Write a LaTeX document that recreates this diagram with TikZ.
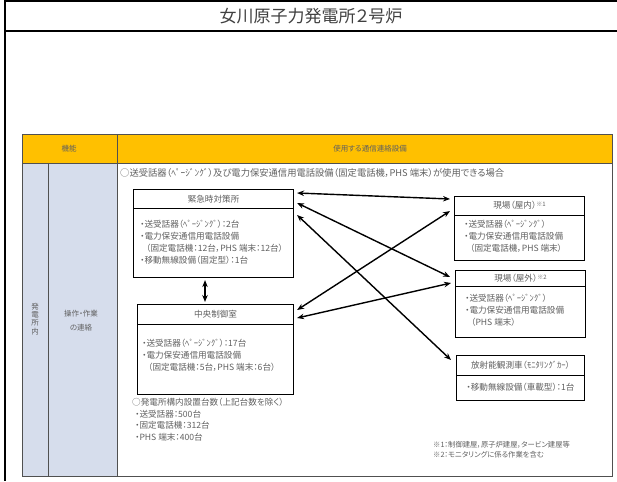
\documentclass[tikz,border=0pt]{standalone}
\usepackage{fontspec}
\setmainfont[RawFeature=+palt]{Noto Sans CJK JP}
\newfontfamily\jpnopalt{Noto Sans CJK JP}
\newcommand{\hk}[1]{{\jpnopalt #1}}
\usetikzlibrary{arrows.meta,calc}
\definecolor{hdr}{HTML}{FFC000}
\definecolor{lblue}{HTML}{D6DDEC}
\definecolor{txt}{HTML}{606060}
\definecolor{tline}{HTML}{505050}
\begin{document}
\begin{tikzpicture}[x=1pt,y=-1pt,
  box/.style={draw=black,line width=1.1pt,anchor=north west,inner sep=0pt,fill=white},
  divl/.style={draw=black,line width=0.6pt},
  ttl/.style={text=txt,inner sep=0pt,font=\fontsize{8.6}{10}\selectfont},
  items/.style={text=txt,inner sep=0pt,anchor=north west,align=left,font=\fontsize{8.6}{12}\selectfont},
  plain/.style={text=txt,inner sep=0pt,align=left,font=\fontsize{8.6}{11.5}\selectfont},
  hdrtxt/.style={text=txt,inner sep=0pt,font=\fontsize{7.5}{9}\selectfont},
  dbl/.style={line width=1.4pt,{Stealth[length=7pt,width=5.5pt]}-{Stealth[length=7pt,width=5.5pt]}},
  tbl/.style={draw=tline,line width=1pt}]
\useasboundingbox (0,0) rectangle (617,481);
% page frame
\draw[line width=1.2pt] (5,0) -- (5,481);
\draw[line width=1.2pt] (5,1) -- (617,1);
\draw[line width=1.8pt] (5,31) -- (617,31);
\node[text=black!75,inner sep=0pt,font=\fontsize{17}{20}\selectfont] (title) at (311,16) {女川原子力発電所２号炉};
% table
\fill[hdr] (22,135) rectangle (612,163);
\fill[lblue] (22,163) rectangle (117,476);
\draw[tbl] (22,135) rectangle (612,476);
\draw[tbl] (117,135) -- (117,476);
\draw[tbl] (22,163) -- (612,163);
\draw[tbl] (48,163) -- (48,476);
\node[hdrtxt] (h1) at (69,149) {機能};
\node[hdrtxt] (h2) at (370,149) {使用する通信連絡設備};
\node[text=txt,inner sep=0pt,align=center,font=\fontsize{7.5}{8.2}\selectfont] (v1) at (35,319) {発\\電\\所\\内};
\node[text=txt,inner sep=0pt,align=center,font=\fontsize{7.5}{14}\selectfont] (v2) at (81,321) {操作・作業\\の連絡};
\node[plain,anchor=west,font=\fontsize{9.3}{11}\selectfont] (cond) at (120,173) {○送受話器（\hk{ﾍﾟｰｼﾞﾝｸﾞ}）及び電力保安通信用電話設備（固定電話機，PHS 端末）が使用できる場合};
% box A
\node[box,minimum width=160pt,minimum height=88pt] (A) at (133,189) {};
\draw[divl] ([yshift=-19pt]A.north west) -- ([yshift=-19pt]A.north east);
\node[ttl] (At) at ([yshift=-10pt]A.north) {緊急時対策所};
\node[items] (Ai) at ([shift={(7pt,-31pt)}]A.north west) {・送受話器（\hk{ﾍﾟｰｼﾞﾝｸﾞ}）：2台\\・電力保安通信用電話設備\\\hspace*{6pt}（固定電話機：12台，PHS 端末：12台）\\・移動無線設備（固定型）：1台};
% box B
\node[box,minimum width=156pt,minimum height=90pt] (B) at (137,304) {};
\draw[divl] ([yshift=-20pt]B.north west) -- ([yshift=-20pt]B.north east);
\node[ttl] (Bt) at ([yshift=-10pt]B.north) {中央制御室};
\node[items] (Bi) at ([shift={(5pt,-35pt)}]B.north west) {・送受話器（\hk{ﾍﾟｰｼﾞﾝｸﾞ}）：17台\\・電力保安通信用電話設備\\\hspace*{6pt}（固定電話機：5台，PHS 端末：6台）};
\node[plain,anchor=north west] (list) at (132,398) {○発電所構内設置台数（上記台数を除く）\\\hspace*{3pt}・送受話器：500台\\\hspace*{3pt}・固定電話機：312台\\\hspace*{3pt}・PHS 端末：400台};
% box C
\node[box,minimum width=130pt,minimum height=64pt] (C) at (454,196) {};
\draw[divl] ([yshift=-19pt]C.north west) -- ([yshift=-19pt]C.north east);
\node[ttl] (Ct) at ([yshift=-9.5pt]C.north) {現場（屋内）\raisebox{2pt}{\fontsize{6}{6}\selectfont ※1}};
\node[items] (Ci) at ([shift={(10pt,-24pt)}]C.north west) {・送受話器（\hk{ﾍﾟｰｼﾞﾝｸﾞ}）\\・電力保安通信用電話設備\\\hspace*{6pt}（固定電話機，PHS 端末）};
% box D
\node[box,minimum width=130pt,minimum height=67pt] (D) at (455,270) {};
\draw[divl] ([yshift=-16pt]D.north west) -- ([yshift=-16pt]D.north east);
\node[ttl] (Dt) at ([yshift=-8pt]D.north) {現場（屋外）\raisebox{2pt}{\fontsize{6}{6}\selectfont ※2}};
\node[items] (Di) at ([shift={(10pt,-24pt)}]D.north west) {・送受話器（\hk{ﾍﾟｰｼﾞﾝｸﾞ}）\\・電力保安通信用電話設備\\\hspace*{6pt}（PHS 端末）};
% box E
\node[box,minimum width=128pt,minimum height=45pt] (E) at (456,355) {};
\draw[divl] ([yshift=-20pt]E.north west) -- ([yshift=-20pt]E.north east);
\node[ttl] (Et) at ([yshift=-10pt]E.north) {放射能観測車（\hk{ﾓﾆﾀﾘﾝｸﾞｶｰ}）};
\node[ttl] (Ei) at ([yshift=-32pt]E.north) {・移動無線設備（車載型）：1台};
% notes
\node[text=txt,inner sep=0pt,anchor=north west,align=left,font=\fontsize{7.3}{10}\selectfont] (notes) at (433,441) {※1：制御建屋，原子炉建屋，タービン建屋等\\※2：モニタリングに係る作業を含む};
% connectors
\draw[dbl] ([shift={(3pt,-4pt)}]A.north east) -- ([shift={(-4pt,-3pt)}]C.north west);
\draw[dbl] ([shift={(3pt,-14pt)}]A.north east) -- ([shift={(-5pt,-7pt)}]D.north west);
\draw[dbl] ([shift={(3pt,-26pt)}]A.north east) -- ([shift={(-5pt,-5pt)}]E.north west);
\draw[dbl] ([shift={(3pt,-6pt)}]B.north east) -- ([shift={(-4pt,-15pt)}]C.north west);
\draw[dbl] ([shift={(3pt,-14pt)}]B.north east) -- ([shift={(-4pt,-13pt)}]D.north west);
\draw[dbl] ([shift={(72pt,-2pt)}]A.south west) -- ([shift={(68pt,2pt)}]B.north west);
\end{tikzpicture}
\end{document}
